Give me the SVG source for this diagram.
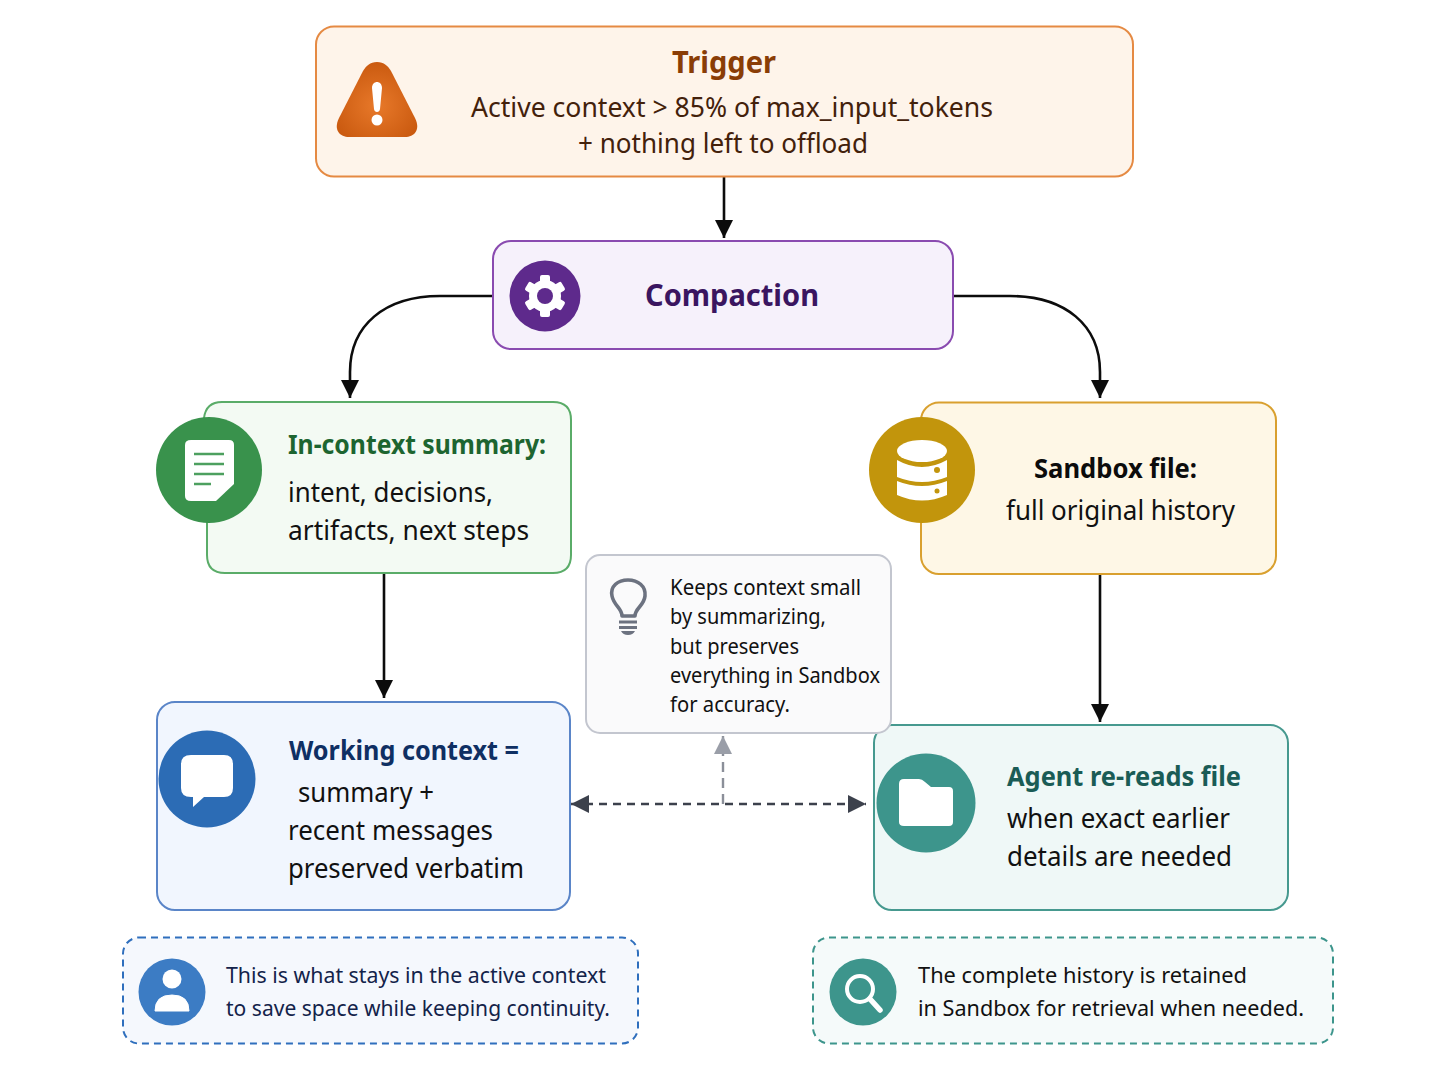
<svg xmlns="http://www.w3.org/2000/svg" width="1448" height="1086" viewBox="0 0 1448 1086">
<style>
text{font-family:"Noto Sans","Open Sans","Liberation Sans",sans-serif;fill:#111}
.b{font-weight:700}
.m{font-size:27px}
.f{font-size:21.500px}
.box{stroke-width:2}
.conn{fill:none;stroke:#0c0c0c;stroke-width:2.600}
.dash{fill:none;stroke:#3c414c;stroke-width:2.400;stroke-dasharray:8 6}
</style>
<defs>
<marker id="a" markerUnits="userSpaceOnUse" markerWidth="20" markerHeight="20" refX="18" refY="9" orient="auto"><path d="M0 0L18 9L0 18z" fill="#0c0c0c"/></marker>
<marker id="d" markerUnits="userSpaceOnUse" markerWidth="20" markerHeight="20" refX="18" refY="9" orient="auto-start-reverse"><path d="M0 0L18 9L0 18z" fill="#3c414c"/></marker>
<marker id="g" markerUnits="userSpaceOnUse" markerWidth="20" markerHeight="20" refX="18" refY="9" orient="auto"><path d="M0 0L18 9L0 18z" fill="#9a9ea8"/></marker>
<radialGradient id="warn" cx="50%" cy="58%" r="60%"><stop offset="0" stop-color="#e8792a"/><stop offset="1" stop-color="#c9590f"/></radialGradient>
</defs>
<rect width="1448" height="1086" fill="#fff"/>
<g id="connectors">
<path class="conn" d="M724 177V238" marker-end="url(#a)"/>
<path class="conn" d="M493 296H440C385 296 350 325 350 372V398" marker-end="url(#a)"/>
<path class="conn" d="M953 296H1010C1065 296 1100 325 1100 372V398" marker-end="url(#a)"/>
<path class="conn" d="M384 573V698" marker-end="url(#a)"/>
<path class="conn" d="M1100 574V722" marker-end="url(#a)"/>
<path class="dash" d="M571 804H866" marker-start="url(#d)" marker-end="url(#d)"/>
<path class="dash" d="M723 804V736" style="stroke:#8b8f99;stroke-dasharray:10 6" marker-end="url(#g)"/>
</g>
<g id="trigger">
<rect class="box" x="316" y="26.500" width="817" height="150" rx="18" fill="#fef4ea" stroke="#e58a43"/>
<path d="M377 62C384 62 388 66 391 71L415 118C421 130 414 137 405 137H349C340 137 333 130 339 118L363 71C366 66 370 62 377 62Z" fill="url(#warn)"/>
<path d="M372 88C372 80 382 80 382 88L380 109C379.700 113 374.300 113 374 109Z" fill="#fff"/>
<circle cx="377" cy="120" r="5.500" fill="#fff"/>
<text class="b" x="672" y="73" font-size="30" style="fill:#8a3d06" textLength="104" lengthAdjust="spacingAndGlyphs">Trigger</text>
<text x="471" y="117" font-size="27" style="fill:#43210b" textLength="522" lengthAdjust="spacingAndGlyphs">Active context &gt; 85% of max_input_tokens</text>
<text x="578" y="153" font-size="27" style="fill:#43210b" textLength="290" lengthAdjust="spacingAndGlyphs">+ nothing left to offload</text>
</g>
<g id="compaction">
<rect class="box" x="493" y="241" width="460" height="108" rx="18" fill="#f6f1fb" stroke="#8a4bb0"/>
<circle cx="545" cy="296" r="35.500" fill="#5e2a8c"/>
<g fill="#fff">
<circle cx="545" cy="296" r="16"/>
<rect x="540" y="275" width="10" height="42" rx="2"/>
<rect x="540" y="275" width="10" height="42" rx="2" transform="rotate(60 545 296)"/>
<rect x="540" y="275" width="10" height="42" rx="2" transform="rotate(120 545 296)"/>
</g>
<circle cx="545" cy="296" r="8" fill="#5e2a8c"/>
<text class="b" x="645" y="306" font-size="31" style="fill:#3a1560" textLength="174" lengthAdjust="spacingAndGlyphs">Compaction</text>
</g>
<g id="in-context-summary">
<path class="box" d="M204 420V418Q206 402 222 402H553Q571 402 571 420V555Q571 573 553 573H225Q207 573 207 555V500" fill="#f3faf3" stroke="#5aac68"/>
<circle cx="209" cy="470" r="53" fill="#39924c"/>
<path d="M191 440H229Q234 440 234 445V484L216 501H191Q185 501 185 496V445Q185 440 191 440Z" fill="#fff"/>
<path d="M194 454H224M194 464H224M194 474H224M194 484H211" stroke="#4da05f" stroke-width="2.600" fill="none"/>
<text class="b" x="288" y="454" font-size="26" style="fill:#1d6530" textLength="258" lengthAdjust="spacingAndGlyphs">In-context summary:</text>
<text class="m" x="288" y="502" textLength="205" lengthAdjust="spacingAndGlyphs">intent, decisions,</text>
<text class="m" x="288" y="540" textLength="241" lengthAdjust="spacingAndGlyphs">artifacts, next steps</text>
</g>
<g id="sandbox-file">
<rect class="box" x="921" y="402.500" width="355" height="171.500" rx="18" fill="#fef7e6" stroke="#d9a02f"/>
<circle cx="922" cy="470" r="53" fill="#c2950c"/>
<g fill="#fff">
<ellipse cx="922" cy="451" rx="25" ry="11"/>
<path d="M897 460Q922 474 947 460V477Q922 487 897 477Z"/>
<path d="M897 481Q922 491 947 481V495Q922 506 897 495Z"/>
</g>
<circle cx="937" cy="470" r="3" fill="#c2950c"/>
<circle cx="937" cy="491" r="2.500" fill="#c2950c"/>
<text class="b" x="1034" y="478" font-size="26" style="fill:#0c0c0c" textLength="163" lengthAdjust="spacingAndGlyphs">Sandbox file:</text>
<text class="m" x="1006" y="520" textLength="229" lengthAdjust="spacingAndGlyphs">full original history</text>
</g>
<g id="working-context">
<rect class="box" x="157" y="702" width="413" height="208" rx="18" fill="#f1f6fe" stroke="#5a85c8"/>
<circle cx="207" cy="779" r="48.500" fill="#2c6cb5"/>
<path d="M191 755H224Q233 755 233 764V788Q233 797 224 797H204L193 807V797H191Q181 797 181 788V764Q181 755 191 755Z" fill="#fff"/>
<text class="b" x="289" y="760" font-size="26" style="fill:#0f2f63" textLength="230" lengthAdjust="spacingAndGlyphs">Working context =</text>
<text class="m" x="298" y="802" textLength="136" lengthAdjust="spacingAndGlyphs">summary +</text>
<text class="m" x="288" y="840" textLength="205" lengthAdjust="spacingAndGlyphs">recent messages</text>
<text class="m" x="288" y="878" textLength="236" lengthAdjust="spacingAndGlyphs">preserved verbatim</text>
</g>
<g id="agent-re-reads">
<rect class="box" x="874" y="725" width="414" height="185" rx="18" fill="#eff8f7" stroke="#46998f"/>
<circle cx="926" cy="803" r="49.500" fill="#3d958c"/>
<path d="M904 779H919Q922 779 925 782L931 787H949Q953 787 953 791V822Q953 826 949 826H904Q899 826 899 822V784Q899 779 904 779Z" fill="#fff"/>
<text class="b" x="1007" y="786" font-size="26" style="fill:#1a5c56" textLength="234" lengthAdjust="spacingAndGlyphs">Agent re-reads file</text>
<text class="m" x="1007" y="828" textLength="223" lengthAdjust="spacingAndGlyphs">when exact earlier</text>
<text class="m" x="1007" y="866" textLength="225" lengthAdjust="spacingAndGlyphs">details are needed</text>
</g>
<g id="note">
<rect x="586" y="555" width="305" height="178" rx="14" fill="#fafafb" stroke="#c3c6cf" stroke-width="2"/>
<path d="M622 616C622 608 614 606 612 596C610 586 618 580 628 580C638 580 646 586 645 596C644 606 635 608 635 616Z" fill="none" stroke="#6c7280" stroke-width="3.600" stroke-linejoin="round"/>
<path d="M619 622H637M619 627.500H637" stroke="#6c7280" stroke-width="3" fill="none"/>
<path d="M621 631H635Q633 635 628 635Q623 635 621 631Z" fill="#6c7280"/>
<text class="f" x="670" y="595" textLength="191" lengthAdjust="spacingAndGlyphs">Keeps context small</text>
<text class="f" x="670" y="624" textLength="156" lengthAdjust="spacingAndGlyphs">by summarizing,</text>
<text class="f" x="670" y="654" textLength="129" lengthAdjust="spacingAndGlyphs">but preserves</text>
<text class="f" x="670" y="683" textLength="210" lengthAdjust="spacingAndGlyphs">everything in Sandbox</text>
<text class="f" x="670" y="712" textLength="120" lengthAdjust="spacingAndGlyphs">for accuracy.</text>
</g>
<g id="callout-left">
<rect x="123" y="937.500" width="515" height="106" rx="16" fill="#f5f8fd" stroke="#2f6fbd" stroke-width="2" stroke-dasharray="7 5"/>
<circle cx="172" cy="992" r="33.500" fill="#3c7cc4"/>
<circle cx="172" cy="979" r="9.500" fill="#fff"/>
<path d="M155 1011Q155 995 172 995Q189 995 189 1011Z" fill="#fff" stroke="#fff" stroke-width="1" stroke-linejoin="round"/>
<text class="f" x="226" y="983" style="fill:#13234a" textLength="380" lengthAdjust="spacingAndGlyphs">This is what stays in the active context</text>
<text class="f" x="226" y="1016" style="fill:#13234a" textLength="384" lengthAdjust="spacingAndGlyphs">to save space while keeping continuity.</text>
</g>
<g id="callout-right">
<rect x="813" y="937.500" width="520" height="106" rx="16" fill="#f5fafa" stroke="#3d958c" stroke-width="2" stroke-dasharray="7 5"/>
<circle cx="863" cy="992" r="33.500" fill="#3d958c"/>
<circle cx="860" cy="989" r="13" fill="none" stroke="#fff" stroke-width="4"/>
<path d="M870 999L880 1010" stroke="#fff" stroke-width="5.500" stroke-linecap="round"/>
<text class="f" x="918" y="983" textLength="329" lengthAdjust="spacingAndGlyphs">The complete history is retained</text>
<text class="f" x="918" y="1016" textLength="386" lengthAdjust="spacingAndGlyphs">in Sandbox for retrieval when needed.</text>
</g>
</svg>
